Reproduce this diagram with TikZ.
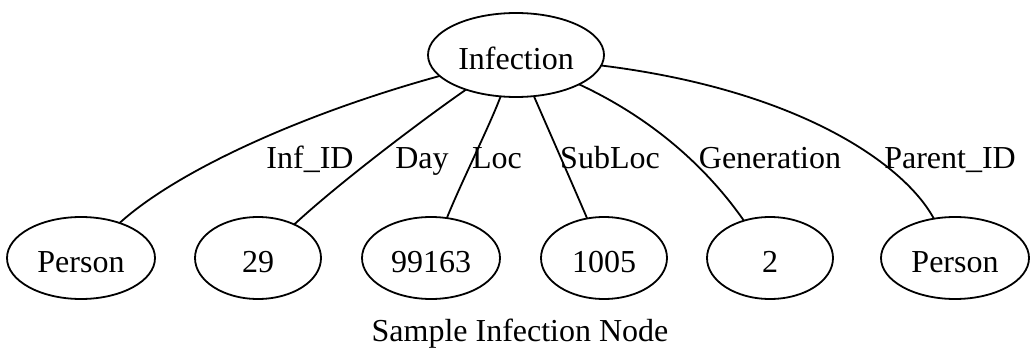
\documentclass[tikz,border=0pt]{standalone}
\usepackage{fontspec}
\setmainfont{Liberation Serif}
\usetikzlibrary{shapes.geometric}
\begin{document}
\begin{tikzpicture}[x=0.75pt,y=-0.75pt,
  every node/.style={font=\fontsize{24pt}{29pt}\selectfont},
  oval/.style={draw,ellipse,line width=1.35pt,inner sep=0pt,outer sep=0pt,
    minimum height=61.5pt,text height=21.5pt,text depth=0pt},
  wide/.style={oval,minimum width=111pt},
  mid/.style={oval,minimum width=103.5pt},
  narrow/.style={oval,minimum width=94.5pt},
  edgelabel/.style={anchor=base,inner sep=0pt},
  link/.style={line width=1.35pt}]
\useasboundingbox (0,0) rectangle (1031,349);

% root of the record
\node[oval,minimum width=132pt,minimum height=63pt] (inf) at (516,55) {Infection};

% attribute values
\node[wide]   (p1)  at (81,258)  {Person};
\node[narrow] (day) at (258,258) {29};
\node[mid]    (loc) at (431,258) {99163};
\node[narrow] (sub) at (604,258) {1005};
\node[narrow] (gen) at (770,258) {2};
\node[wide]   (p2)  at (955,258) {Person};

% attribute edges
\draw[link] (inf) .. controls (305,113) and (178,170) .. (p1);
\draw[link] (inf) .. controls (425,118) and (340,182) .. (day);
\draw[link] (inf) .. controls (490,125) and (460,185) .. (loc);
\draw[link] (inf) .. controls (546,124) and (575,190) .. (sub);
\draw[link] (inf) .. controls (660,122) and (712,175) .. (gen);
\draw[link] (inf) .. controls (800,90) and (905,165) .. (p2);

% edge labels
\node[edgelabel] (l1) at (310,169) {Inf\_ID};
\node[edgelabel] (l2) at (422,169) {Day};
\node[edgelabel] (l3) at (497,169) {Loc};
\node[edgelabel] (l4) at (610,169) {SubLoc};
\node[edgelabel] (l5) at (770,169) {Generation};
\node[edgelabel] (l6) at (950,169) {Parent\_ID};

% caption
\node[edgelabel] (cap) at (520,341) {Sample Infection Node};
\end{tikzpicture}
\end{document}
